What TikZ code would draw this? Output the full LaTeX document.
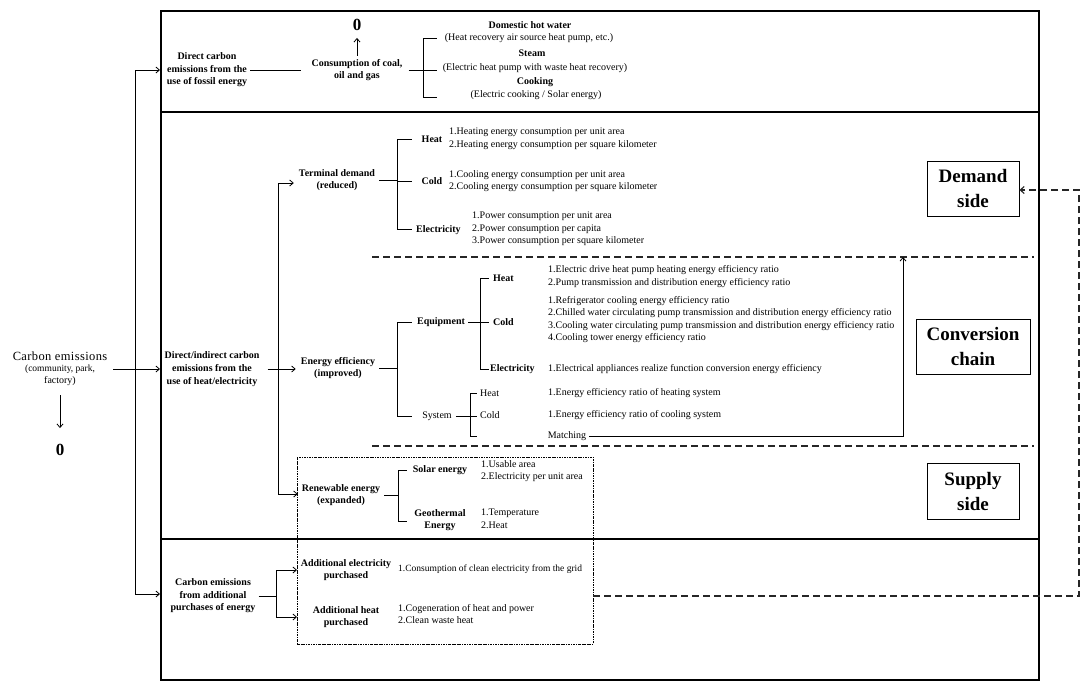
\documentclass[tikz,border=0pt]{standalone}
\usepackage{fontspec}
\setmainfont{Liberation Serif}
\usetikzlibrary{arrows.meta}
\newcommand{\fs}{\fontsize{10}{12.6}\selectfont}
\begin{document}
\begin{tikzpicture}[x=1pt,y=-1pt,
  lbl/.style={font=\fs\bfseries,align=center,inner sep=0pt},
  lblr/.style={font=\fs,align=center,inner sep=0pt},
  itm/.style={font=\fs,align=left,anchor=west,inner sep=0pt},
  ln/.style={line width=0.8pt},
  arr/.style={ln,-{Straight Barb[length=3.5pt,width=6pt]}},
  zero/.style={font=\fontsize{17}{19}\selectfont\bfseries,inner sep=0pt},
  big/.style={font=\fontsize{19}{25}\selectfont\bfseries,align=center,draw,line width=0.8pt,inner sep=0pt},
  dsh/.style={line width=1.1pt,dash pattern=on 7pt off 4pt,draw=black!85},
  dotb/.style={line width=0.6pt,dash pattern=on 2.5pt off 1pt on 0.7pt off 1pt}]
\useasboundingbox (0,0) rectangle (1091,689);
\fill[white] (0,0) rectangle (1091,689);
% frame
\node[draw,line width=1.9pt,minimum width=878pt,minimum height=669pt,inner sep=0pt,anchor=north west] (frame) at (160,10) {};
\draw[line width=1.2pt] (160,112) -- (1038,112);
\draw[line width=1.2pt] (160,539) -- (1038,539);
% dashed zone lines
\draw[dsh] (372,257) -- (1034,257);
\draw[dsh] (372,446) -- (1034,446);
% dotted box
\draw[dotb] (297,457) rectangle (593,644);

% left
\node[align=center,inner sep=0pt] (ce) at (60,369) {\fontsize{12.5}{13}\selectfont\addfontfeature{LetterSpace=3}Carbon emissions\\[-1pt]\fontsize{9.5}{13}\selectfont (community, park,\\factory)};
\node[zero] (z0) at (60,450) {0};
\draw[arr,shorten <=9pt,shorten >=16pt] (ce) -- (z0);
\coordinate (s1) at (135,70);
\coordinate (s3) at (135,594);
\draw[ln] (s1) -- (s3);
\draw[arr] (s1) -- (s1 -| frame.west);
\draw[arr] (s3) -- (s3 -| frame.west);
\draw[arr,shorten <=6pt] (ce.east) -- (ce.east -| frame.west);

% top section
\node[lbl] (dce) at (207,70) {Direct carbon\\emissions from the\\use of fossil energy};
\node[lbl] (coal) at (357,70) {Consumption of coal,\\oil and gas};
\draw[ln,shorten <=3pt,shorten >=10pt] (dce) -- (coal);
\node[zero] (z1) at (357,25) {0};
\draw[arr,shorten <=3pt,shorten >=7pt] (coal) -- (z1);
\coordinate (b1a) at (423,38);
\coordinate (b1b) at (423,97);
\draw[ln,shorten <=6pt] (coal.east) -- (coal.east -| b1a);
\draw[ln] (b1a) -- (b1b);
\draw[ln] (b1a) -- ++(14,0);
\draw[ln] (423,70) -- ++(14,0);
\draw[ln] (b1b) -- ++(14,0);
\node[lbl] (dhw) at (530,25) {Domestic hot water};
\node[lblr] (dhw2) at (529,38) {(Heat recovery air source heat pump, etc.)};
\node[lbl] (stm) at (532,53) {Steam};
\node[lblr] (stm2) at (535,68) {(Electric heat pump with waste heat recovery)};
\node[lbl] (ck) at (535,82) {Cooking};
\node[lblr] (ck2) at (536,95) {(Electric cooking / Solar energy)};

% middle section
\node[lbl] (dii) at (212,369) {Direct/indirect carbon\\emissions from the\\use of heat/electricity};
\node[lbl] (td) at (337,180) {Terminal demand\\(reduced)};
\node[lbl] (ee) at (338,368) {Energy efficiency\\(improved)};
\node[lbl] (re) at (341,495) {Renewable energy\\(expanded)};
\draw[arr,shorten <=8pt,shorten >=5pt] (dii.east) -- (dii.east -| ee.west);
\coordinate (s2a) at (278,183);
\coordinate (s2b) at (278,494);
\draw[ln] (s2a) -- (s2b);
\draw[arr,shorten >=5pt] (s2a) -- (s2a -| td.west);
\draw[arr,shorten >=4pt] (s2b) -- (s2b -| re.west);

% terminal demand
\coordinate (b2a) at (397,139);
\coordinate (b2b) at (397,229);
\draw[ln,shorten <=4pt] (td.east) -- (td.east -| b2a);
\draw[ln] (b2a) -- (b2b);
\draw[ln] (b2a) -- ++(15,0);
\draw[ln] (397,181) -- ++(15,0);
\draw[ln] (b2b) -- ++(15,0);
\node[lbl] (tH) at (432,139) {Heat};
\node[itm] (tHi) at (449,139) {1.Heating energy consumption per unit area\\2.Heating energy consumption per square kilometer};
\node[lbl] (tC) at (432,181) {Cold};
\node[itm] (tCi) at (449,181) {1.Cooling energy consumption per unit area\\2.Cooling energy consumption per square kilometer};
\node[lbl,anchor=west] (tE) at (416,230) {Electricity};
\node[itm] (tEi) at (472,229) {1.Power consumption per unit area\\2.Power consumption per capita\\3.Power consumption per square kilometer};

% energy efficiency
\coordinate (b3a) at (397,322);
\coordinate (b3b) at (397,416);
\draw[ln,shorten <=4pt] (ee.east) -- (ee.east -| b3a);
\draw[ln] (b3a) -- (b3b);
\draw[ln] (b3a) -- ++(15,0);
\draw[ln] (b3b) -- ++(15,0);
\node[lbl] (eq) at (441,322) {Equipment};
\coordinate (b4a) at (480,278);
\coordinate (b4b) at (480,369);
\draw[ln,shorten <=3pt] (eq.east) -- (eq.east -| b4a);
\draw[ln] (b4a) -- (b4b);
\draw[ln] (b4a) -- ++(9,0);
\draw[ln] (480,322) -- ++(9,0);
\draw[ln] (b4b) -- ++(9,0);
\node[lbl,anchor=west] (eH) at (493,278) {Heat};
\node[itm] (eHi) at (548,276.5) {1.Electric drive heat pump heating energy efficiency ratio\\2.Pump transmission and distribution energy efficiency ratio};
\node[lbl,anchor=west] (eC) at (493,322) {Cold};
\node[itm] (eCi) at (548,319.5) {1.Refrigerator cooling energy efficiency ratio\\2.Chilled water circulating pump transmission and distribution energy efficiency ratio\\3.Cooling water circulating pump transmission and distribution energy efficiency ratio\\4.Cooling tower energy efficiency ratio};
\node[lbl,anchor=west] (eE) at (490,369) {Electricity};
\node[itm] (eEi) at (548,369) {1.Electrical appliances realize function conversion energy efficiency};
% system
\node[lblr] (sy) at (437,416) {System};
\coordinate (b6a) at (470,393);
\coordinate (b6b) at (470,436);
\draw[ln,shorten <=4pt] (sy.east) -- (sy.east -| b6a);
\draw[ln] (b6a) -- (b6b);
\draw[ln] (b6a) -- ++(7,0);
\draw[ln] (470,416) -- ++(7,0);
\draw[ln] (b6b) -- ++(7,0);
\node[lblr,anchor=west] (sH) at (480,393) {Heat};
\node[itm] (sHi) at (548,393) {1.Energy efficiency ratio of heating system};
\node[lblr,anchor=west] (sC) at (480,415) {Cold};
\node[itm] (sCi) at (548,415) {1.Energy efficiency ratio of cooling system};
\node[lblr] (mt) at (567,436) {Matching};
\coordinate (mc) at (903,436);
\coordinate (mtop) at (903,257);
\draw[arr,shorten <=3pt] (mt.east) -- (mc) -- (mtop);

% renewable
\coordinate (b7a) at (398,470);
\coordinate (b7b) at (398,521);
\draw[ln,shorten <=4pt] (re.east) -- (re.east -| b7a);
\draw[ln] (b7a) -- (b7b);
\draw[ln] (b7a) -- ++(9,0);
\draw[ln] (b7b) -- ++(9,0);
\node[lbl] (so) at (440,470) {Solar energy};
\node[itm] (soi) at (481,471) {1.Usable area\\2.Electricity per unit area};
\node[lbl] (ge) at (440,520) {Geothermal\\Energy};
\node[itm] (gei) at (481,519) {1.Temperature\\2.Heat};

% bottom section
\node[lbl] (cea) at (213,596) {Carbon emissions\\from additional\\purchases of energy};
\coordinate (b5a) at (276,570);
\coordinate (b5b) at (276,617);
\draw[ln,shorten <=3pt] (cea.east) -- (cea.east -| b5a);
\draw[ln] (b5a) -- (b5b);
\node[lbl] (ae) at (346,570) {Additional electricity\\purchased};
\node[itm,font=\fontsize{9.5}{12.6}\selectfont] (aei) at (398,569) {1.Consumption of clean electricity from the grid};
\node[lbl] (ah) at (346,617) {Additional heat\\purchased};
\node[itm] (ahi) at (398,614) {1.Cogeneration of heat and power\\2.Clean waste heat};
\draw[arr] (b5a) -- (297,570);
\draw[arr] (b5b) -- (297,617);

% side boxes
\node[big,minimum width=92pt,minimum height=55pt] (ds) at (973,188.5) {Demand\\side};
\node[big,minimum width=114pt,minimum height=55pt] (cc) at (973,346.5) {Conversion\\chain};
\node[big,minimum width=92pt,minimum height=56pt] (ss) at (973,491) {Supply\\side};

% feedback
\coordinate (fb0) at (593,596);
\coordinate (fb1) at (1079,596);
\coordinate (fb2) at (1079,190);
\draw[dsh,-{Straight Barb[length=4pt,width=7pt]}] (fb0) -- (fb1) -- (fb2) -- (fb2 -| ds.east);
\end{tikzpicture}
\end{document}
